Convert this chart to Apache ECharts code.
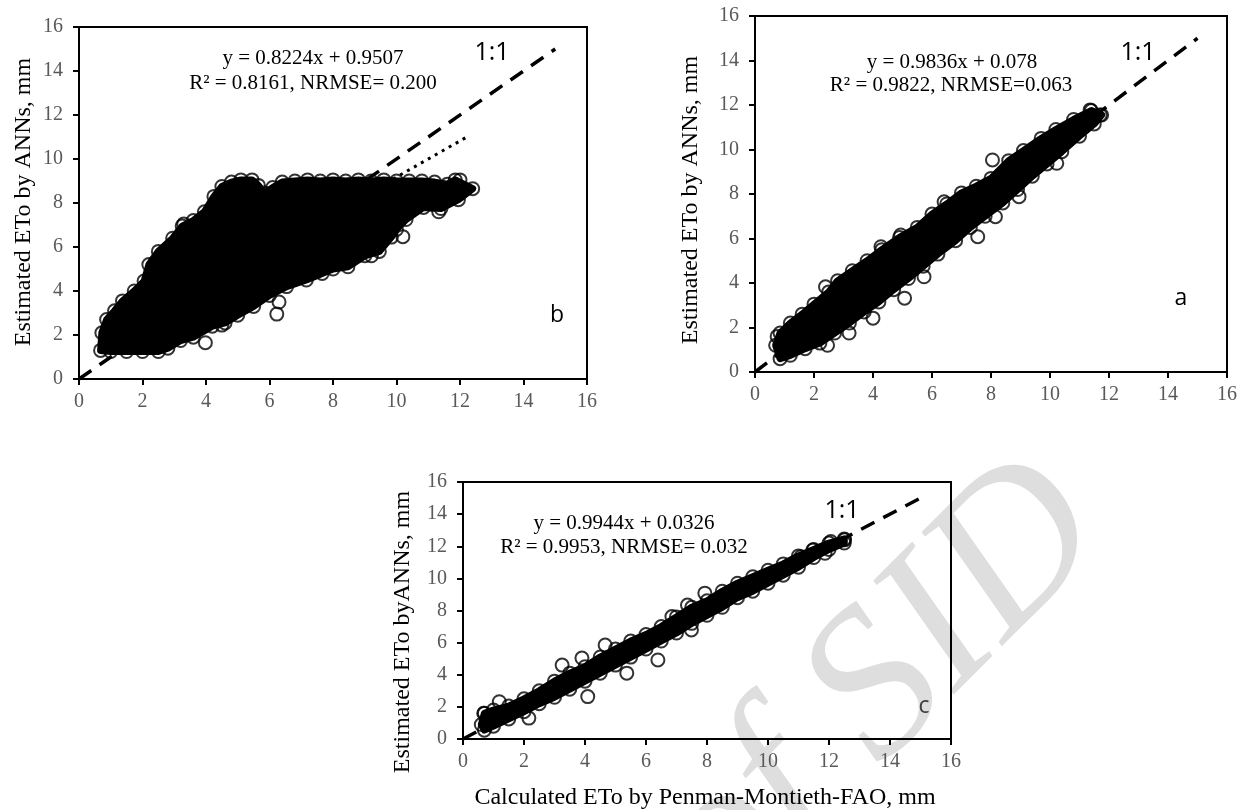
<!DOCTYPE html>
<html>
<head>
<meta charset="utf-8">
<title>Estimated vs calculated ETo</title>
<script src="https://cdn.jsdelivr.net/npm/echarts@6.0.0/dist/echarts.min.js"></script>
<style>
    html, body { margin: 0; padding: 0; background: #fff; }
    #chart { width: 1244px; height: 810px; }
</style>
</head>
<body>
<div id="chart"></div>
<script>
// axis range shared by the three panels
var axisMin = 0, axisMax = 16, axisStep = 2;

// 1:1 reference line
var oneToOne = [[0, 0], [15, 15]];

// panel b : outline of the solid cloud (walked round), and stray points
var edgeB = [
    [0.68, 1.3], [0.72, 2.1], [0.87, 2.7], [1.12, 3.1], [1.37, 3.55], [1.74, 4.0], [2.05, 4.45],
    [2.2, 5.2], [2.5, 5.8], [2.95, 6.4], [3.25, 6.95], [3.6, 7.2], [3.95, 7.6], [4.25, 8.3],
    [4.5, 8.75], [4.8, 8.95], [5.1, 9.05], [5.45, 9.05], [5.65, 8.8], [5.85, 8.45], [6.1, 8.7],
    [6.4, 8.95], [6.8, 9.0], [7.2, 9.05], [7.6, 9.0], [8.0, 9.05], [8.4, 9.0], [8.8, 9.05],
    [9.2, 9.0], [9.6, 9.05], [10.0, 9.0], [10.4, 9.0], [10.8, 9.0], [11.2, 8.95], [11.6, 8.85],
    [11.85, 9.05], [12.4, 8.65], [11.95, 8.15], [11.4, 7.75], [10.85, 7.8], [10.3, 7.25],
    [10.0, 6.8], [9.84, 6.45], [9.46, 5.8], [9.0, 5.6], [8.47, 5.1], [8.0, 5.0], [7.66, 4.8],
    [7.16, 4.5], [6.54, 4.2], [6.0, 3.8], [5.5, 3.3], [5.0, 2.9], [4.6, 2.55], [4.2, 2.4],
    [3.6, 1.9], [3.2, 1.75], [2.8, 1.4], [2.5, 1.25], [2.0, 1.25], [1.5, 1.25], [1.0, 1.25]
];
var strayB = [
    [3.98, 1.65], [6.23, 2.95], [6.3, 3.5], [9.21, 5.6], [10.2, 6.47], [11.33, 7.6], [11.1, 7.95],
    [3.3, 7.05], [8.78, 5.6], [4.5, 2.45], [12.0, 9.05], [11.5, 8.55]
];
// panel b : regression line (dotted), ends
var trendB = [[0.7, 1.53], [12.3, 11.07]];

// panel a
var edgeA = [
    [0.7, 1.2], [0.85, 1.75], [1.2, 2.2], [1.6, 2.6], [2.0, 3.05], [2.5, 3.6], [2.8, 4.1],
    [3.3, 4.55], [3.8, 5.0], [4.3, 5.5], [4.9, 6.05], [5.5, 6.5], [6.0, 7.1], [6.5, 7.55],
    [7.0, 8.05], [7.5, 8.35], [8.0, 8.7], [8.6, 9.5], [9.1, 9.95], [9.7, 10.5], [10.2, 10.9],
    [10.8, 11.35], [11.4, 11.75], [11.75, 11.55], [11.5, 11.15], [11.0, 10.6], [10.4, 9.9],
    [9.9, 9.35], [9.4, 8.8], [8.9, 8.2], [8.4, 7.6], [7.8, 7.0], [7.3, 6.5], [6.8, 5.9],
    [6.2, 5.3], [5.7, 4.75], [5.2, 4.2], [4.7, 3.7], [4.2, 3.15], [3.7, 2.7], [3.2, 2.2],
    [2.7, 1.75], [2.2, 1.3], [1.7, 1.05], [1.2, 0.75], [0.85, 0.6]
];
var strayA = [
    [0.75, 1.6], [2.39, 3.83], [8.05, 9.53], [10.23, 9.38], [8.95, 7.88], [8.15, 6.98],
    [7.55, 6.08], [5.73, 4.28], [5.07, 3.32], [4.0, 2.42], [3.19, 1.75], [2.46, 1.2],
    [4.27, 5.63], [4.94, 6.16], [6.41, 7.65], [11.36, 11.78], [11.7, 11.55]
];

// panel c
var edgeC = [
    [0.6, 0.9], [0.7, 1.6], [1.0, 1.8], [1.5, 2.05], [2.0, 2.5], [2.5, 3.0], [3.0, 3.6],
    [3.5, 4.1], [4.0, 4.5], [4.5, 5.1], [5.0, 5.6], [5.5, 6.1], [6.0, 6.5], [6.5, 7.0],
    [7.0, 7.6], [7.5, 8.2], [8.0, 8.6], [8.5, 9.2], [9.0, 9.7], [9.5, 10.1], [10.0, 10.5],
    [10.5, 10.9], [11.0, 11.4], [11.5, 11.8], [12.0, 12.2], [12.5, 12.45], [12.5, 12.2],
    [12.0, 11.8], [11.5, 11.3], [11.0, 10.7], [10.5, 10.2], [10.0, 9.7], [9.5, 9.2],
    [9.0, 8.8], [8.5, 8.2], [8.0, 7.7], [7.5, 7.2], [7.0, 6.6], [6.5, 6.1], [6.0, 5.6],
    [5.5, 5.1], [5.0, 4.6], [4.5, 4.1], [4.0, 3.6], [3.5, 3.1], [3.0, 2.6], [2.5, 2.2],
    [2.0, 1.7], [1.5, 1.25], [1.0, 0.8], [0.7, 0.55]
];
var strayC = [
    [0.68, 1.6], [1.19, 2.32], [2.16, 1.3], [3.25, 4.6], [3.9, 5.04], [4.09, 2.64], [4.66, 5.85],
    [5.37, 4.1], [6.39, 4.92], [6.85, 7.62], [7.49, 6.79], [7.36, 8.34], [7.93, 9.08],
    [11.47, 11.77], [11.87, 11.56], [12.06, 12.29], [12.51, 12.4], [11.08, 11.35]
];

var SERIF = '"Liberation Serif", "Times New Roman", serif';
var SANS = '"Open Sans", "DejaVu Sans", sans-serif';

var myChart = echarts.init(document.getElementById('chart'), null, {renderer: 'canvas'});

// plot boxes b, a, c
var grids = [
    {left: 79, top: 27, width: 508, height: 352},
    {left: 755, top: 16, width: 472, height: 356},
    {left: 463, top: 482, width: 488, height: 257}
];

function axisFor(i, isY) {
    return {
        type: 'value', gridIndex: i,
        min: axisMin, max: axisMax, interval: axisStep,
        axisLine: {show: true, onZero: false, lineStyle: {color: '#000', width: 2}},
        axisTick: {show: true, inside: false, length: 6, lineStyle: {color: '#000', width: 2}},
        axisLabel: {color: '#595959', fontFamily: SERIF, fontSize: 20, margin: isY ? 16 : 13},
        splitLine: {show: false}
    };
}

// fills the dense part of a cloud; the thick stroke covers the inner half of the edge circles
function cloudFill(i, pts) {
    return {
        type: 'custom', xAxisIndex: i, yAxisIndex: i, z: 3, silent: true,
        data: pts,
        renderItem: function (params, api) {
            if (params.dataIndex !== 0) return;
            var coords = pts.map(function (p) { return api.coord(p); });
            return {type: 'polygon', shape: {points: coords},
                style: {fill: '#000', stroke: '#000', lineWidth: 7, lineJoin: 'round'}};
        }
    };
}

function circles(i, pts) {
    return {
        type: 'scatter', xAxisIndex: i, yAxisIndex: i, z: 4, silent: true,
        symbol: 'circle', symbolSize: 13,
        itemStyle: {color: 'rgba(0,0,0,0)', borderColor: '#000', borderWidth: 2},
        data: pts
    };
}

function refLine(i, pts, type, width) {
    return {
        type: 'line', xAxisIndex: i, yAxisIndex: i, z: 2, silent: true,
        showSymbol: false, symbol: 'none',
        lineStyle: {color: '#000', width: width, type: type, cap: 'butt'},
        data: pts
    };
}

function txt(x, y, s, font, color, rot) {
    return {
        type: 'text', x: x, y: y, rotation: rot || 0, z: 10, silent: true,
        style: {text: s, font: font, fill: color || '#000',
            align: 'center', verticalAlign: 'middle', textAlign: 'center', textVerticalAlign: 'middle'}
    };
}

var eqFont = '21px ' + SERIF;
var titleFont = '24px ' + SERIF;
var oneFont = '25px ' + SANS;
var tagFont = '23px ' + SANS;

var option = {
    backgroundColor: '#fff',
    animation: false,
    grid: grids.map(function (g) {
        return {left: g.left, top: g.top, width: g.width, height: g.height,
            show: true, borderColor: '#000', borderWidth: 2, backgroundColor: 'transparent',
            containLabel: false, outerBoundsMode: 'none'};
    }),
    xAxis: [axisFor(0, false), axisFor(1, false), axisFor(2, false)],
    yAxis: [axisFor(0, true), axisFor(1, true), axisFor(2, true)],
    series: [
        refLine(0, oneToOne, [15, 10], 3.5),
        refLine(0, trendB, [3, 5], 3),
        cloudFill(0, edgeB),
        circles(0, edgeB.concat(strayB)),

        refLine(1, oneToOne, [15, 10], 3.5),
        cloudFill(1, edgeA),
        circles(1, edgeA.concat(strayA)),

        refLine(2, oneToOne, [15, 10], 3.5),
        cloudFill(2, edgeC),
        circles(2, edgeC.concat(strayC))
    ],
    graphic: [
        // watermark sits behind everything
        {type: 'text', x: 880, y: 690, rotation: Math.PI / 4, z: -10, silent: true,
            style: {text: 'of SID', font: 'italic 210px ' + SERIF, fill: '#dedede',
                align: 'center', verticalAlign: 'middle', textAlign: 'center', textVerticalAlign: 'middle'}},

        txt(313, 58, 'y = 0.8224x + 0.9507', eqFont),
        txt(313, 83, 'R² = 0.8161, NRMSE= 0.200', eqFont),
        txt(492, 53, '1:1', oneFont),
        txt(557, 315, 'b', tagFont),
        txt(24, 202, 'Estimated ETo by ANNs, mm', titleFont, '#000', Math.PI / 2),

        txt(952, 62, 'y = 0.9836x + 0.078', eqFont),
        txt(951, 85, 'R² = 0.9822, NRMSE=0.063', eqFont),
        txt(1138, 53, '1:1', oneFont),
        txt(1181, 298, 'a', tagFont),
        txt(691, 200, 'Estimated ETo by ANNs, mm', titleFont, '#000', Math.PI / 2),

        txt(624, 523, 'y = 0.9944x + 0.0326', eqFont),
        txt(624, 547, 'R² = 0.9953, NRMSE= 0.032', eqFont),
        txt(842, 511, '1:1', oneFont),
        txt(924, 706, 'c', tagFont, '#404040'),
        txt(403, 632, 'Estimated ETo byANNs, mm', titleFont, '#000', Math.PI / 2),
        txt(705, 798, 'Calculated ETo by Penman-Montieth-FAO, mm', titleFont)
    ]
};

myChart.setOption(option);
</script>
</body>
</html>
